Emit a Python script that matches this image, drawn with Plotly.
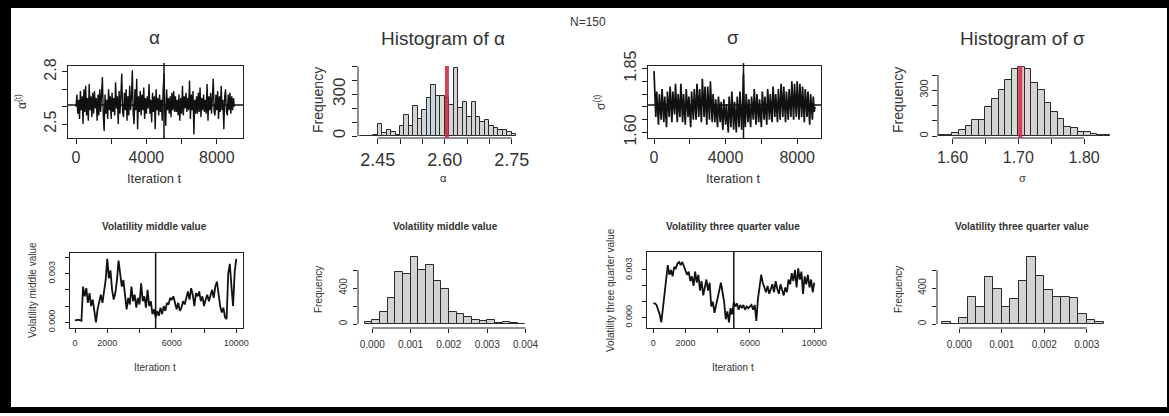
import plotly.graph_objects as go

W, H = 1169, 416

# ---------------- data ----------------
iter_step_top = 50
alpha_trace = [
    2.60, 2.67, 2.56, 2.64, 2.53, 2.69, 2.58, 2.66, 2.50, 2.70,
    2.57, 2.72, 2.55, 2.65, 2.52, 2.73, 2.58, 2.66, 2.54, 2.68,
    2.56, 2.69, 2.59, 2.65, 2.52, 2.67, 2.55, 2.70, 2.57, 2.66,
    2.77, 2.55, 2.46, 2.67, 2.56, 2.64, 2.53, 2.70, 2.58, 2.66,
    2.53, 2.68, 2.57, 2.65, 2.55, 2.74, 2.59, 2.66, 2.50, 2.69,
    2.56, 2.67, 2.79, 2.57, 2.54, 2.68, 2.58, 2.70, 2.52, 2.66,
    2.55, 2.72, 2.58, 2.65, 2.81, 2.56, 2.50, 2.70, 2.58, 2.76,
    2.47, 2.66, 2.57, 2.69, 2.55, 2.67, 2.58, 2.71, 2.53, 2.65,
    2.56, 2.66, 2.59, 2.73, 2.56, 2.64, 2.51, 2.68, 2.57, 2.66,
    2.47, 2.70, 2.58, 2.65, 2.55, 2.67, 2.57, 2.64, 2.52, 2.69,
    2.79, 2.57, 2.49, 2.70, 2.58, 2.65, 2.56, 2.66, 2.54, 2.68,
    2.58, 2.69, 2.57, 2.66, 2.57, 2.64, 2.55, 2.67, 2.52, 2.65,
    2.56, 2.72, 2.55, 2.66, 2.59, 2.68, 2.57, 2.65, 2.58, 2.75,
    2.53, 2.67, 2.58, 2.69, 2.44, 2.64, 2.56, 2.66, 2.56, 2.68,
    2.57, 2.71, 2.54, 2.65, 2.58, 2.67, 2.57, 2.64, 2.56, 2.73,
    2.52, 2.66, 2.58, 2.68, 2.56, 2.65, 2.76, 2.57, 2.55, 2.67,
    2.58, 2.69, 2.53, 2.66, 2.57, 2.72, 2.58, 2.64, 2.47, 2.66,
    2.70, 2.57, 2.55, 2.67, 2.58, 2.68, 2.56, 2.66, 2.58, 2.65,
    2.60]
sigma_trace = [
    1.84, 1.70, 1.66, 1.76, 1.68, 1.63, 1.75, 1.70, 1.65, 1.77,
    1.68, 1.64, 1.74, 1.69, 1.62, 1.76, 1.71, 1.66, 1.78, 1.69,
    1.64, 1.76, 1.70, 1.67, 1.79, 1.68, 1.64, 1.75, 1.71, 1.66,
    1.79, 1.70, 1.64, 1.75, 1.69, 1.63, 1.77, 1.70, 1.66, 1.74,
    1.68, 1.62, 1.76, 1.71, 1.65, 1.77, 1.69, 1.65, 1.79, 1.70,
    1.66, 1.77, 1.71, 1.64, 1.81, 1.69, 1.66, 1.78, 1.70, 1.63,
    1.78, 1.70, 1.65, 1.80, 1.69, 1.64, 1.75, 1.70, 1.64, 1.73,
    1.69, 1.62, 1.74, 1.68, 1.64, 1.72, 1.67, 1.61, 1.73, 1.68,
    1.63, 1.71, 1.66, 1.60, 1.74, 1.68, 1.62, 1.76, 1.67, 1.61,
    1.72, 1.66, 1.60, 1.74, 1.68, 1.62, 1.76, 1.69, 1.61, 1.72,
    1.83, 1.66, 1.62, 1.75, 1.69, 1.64, 1.73, 1.68, 1.62, 1.74,
    1.70, 1.65, 1.77, 1.69, 1.63, 1.75, 1.70, 1.64, 1.73, 1.69,
    1.62, 1.76, 1.70, 1.65, 1.74, 1.69, 1.63, 1.77, 1.70, 1.65,
    1.75, 1.70, 1.64, 1.78, 1.71, 1.66, 1.75, 1.69, 1.64, 1.77,
    1.71, 1.65, 1.79, 1.70, 1.66, 1.78, 1.71, 1.64, 1.76, 1.70,
    1.65, 1.77, 1.71, 1.66, 1.80, 1.70, 1.65, 1.79, 1.72, 1.66,
    1.80, 1.71, 1.65, 1.79, 1.70, 1.66, 1.78, 1.71, 1.64, 1.77,
    1.70, 1.66, 1.76, 1.69, 1.63, 1.75, 1.70, 1.65, 1.74, 1.68,
    1.70]
alpha_mean = 2.61
sigma_mean = 1.707
burn_in = 5000

iter_step_bottom = 100
vol_mid_trace = [0.00015, 0.00012, 0.00016, 0.00013, 0.00010, 0.0022, 0.0016, 0.0021, 0.0012, 0.0018,
                 0.0010, 0.0014, 0.0005, 0.0000, 0.0008, 0.0013, 0.0017, 0.0012, 0.0019, 0.0026,
                 0.0039, 0.0027, 0.0032, 0.0020, 0.0014, 0.0018, 0.0026, 0.0038, 0.0030, 0.0022,
                 0.0026, 0.0017, 0.0008, 0.0015, 0.0011, 0.0022, 0.0013, 0.0017, 0.0009, 0.0015,
                 0.0011, 0.0024, 0.0013, 0.0016, 0.0009, 0.0020, 0.0010, 0.0013, 0.0005, 0.0008,
                 0.0003, 0.0007, 0.0004, 0.0009, 0.0005, 0.0010, 0.0007, 0.0012, 0.0011, 0.0015,
                 0.0014, 0.0016, 0.0011, 0.0008, 0.0012, 0.0007, 0.0009, 0.0013, 0.0011, 0.0016,
                 0.0019, 0.0014, 0.0021, 0.0017, 0.0010, 0.0018, 0.0016, 0.0019, 0.0013, 0.0016,
                 0.0010, 0.0014, 0.0017, 0.0013, 0.0017, 0.0020, 0.0015, 0.0022, 0.0025, 0.0016,
                 0.0010, 0.0006, 0.0009, 0.0003, 0.0002, 0.0030, 0.0036, 0.0022, 0.0010, 0.0031,
                 0.0039]
vol_tq_trace = [0.0009, 0.0009, 0.0008, 0.0005, 0.0002, -0.0003, 0.0006, 0.0012, 0.0020, 0.0033,
                0.0027, 0.0030, 0.0026, 0.0032, 0.0031, 0.0034, 0.0035, 0.0033, 0.0035, 0.0032,
                0.0030, 0.0027, 0.0029, 0.0023, 0.0026, 0.0020, 0.0029, 0.0022, 0.0027, 0.0017,
                0.0023, 0.0014, 0.0019, 0.0024, 0.0017, 0.0022, 0.0007, 0.0010, 0.0003, 0.0008,
                0.0014, 0.0018, 0.0022, 0.0016, 0.0010, -0.0001, 0.0004, -0.0003, 0.0006, 0.0002,
                0.0010, 0.0007, 0.0009, 0.0005, 0.0008, 0.0006, 0.0008, 0.0005, 0.0007, 0.0006,
                0.0007, 0.0008, 0.0005, 0.0008, -0.0002, 0.0012, 0.0019, 0.0027, 0.0022, 0.0019,
                0.0016, 0.0020, 0.0015, 0.0018, 0.0021, 0.0016, 0.0023, 0.0018, 0.0015, 0.0021,
                0.0017, 0.0014, 0.0019, 0.0016, 0.0024, 0.0021, 0.0028, 0.0023, 0.0030, 0.0019,
                0.0031, 0.0024, 0.0029, 0.0015, 0.0026, 0.0021, 0.0027, 0.0019, 0.0024, 0.0016,
                0.0022]

alpha_bin_start, alpha_bin_width = 2.41, 0.01
alpha_counts = [2, 3, 3, 5, 85, 25, 40, 30, 10, 71, 155, 71, 214, 126, 186, 274, 369, 286,
                286, 274, 226, 488, 202, 245, 138, 245, 138, 102, 114, 71, 55, 43, 43, 26, 12]
alpha_blue_bins = [2.56, 2.57, 2.58]
alpha_green_bins = [2.59]
alpha_red = 2.605

sigma_bin_start, sigma_bin_width = 1.58, 0.01
sigma_counts = [5, 5, 17, 39, 66, 105, 105, 192, 243, 302, 367, 437, 455, 437, 345, 302,
                214, 160, 109, 57, 50, 28, 24, 11, 7, 4]
sigma_green_bins = [1.69]
sigma_pink_bins = [1.71]
sigma_red = 1.703

mid_bin_start, mid_bin_width = -0.0002, 0.0002
mid_counts = [26, 44, 137, 285, 581, 555, 740, 600, 655, 478, 385, 137, 111, 74, 44, 37, 44, 8, 22, 11, 4]
tq_bin_start, tq_bin_width = -0.0004, 0.0002
tq_counts = [18, 2, 70, 296, 185, 518, 385, 185, 278, 478, 740, 537, 378, 304, 304, 285, 111, 44, 26]

# ticks: (labelled values, labels, unlabelled tick values)
trace_top_x = ([0, 4000, 8000], ["0", "4000", "8000"], [2000, 6000])
alpha_y = ([2.5, 2.8], ["2.5", "2.8"], [2.6, 2.7])
sigma_y = ([1.60, 1.85], ["1.60", "1.85"], [1.65, 1.70, 1.75, 1.80])
alpha_hx = ([2.45, 2.60, 2.75], ["2.45", "2.60", "2.75"], [2.50, 2.55, 2.65, 2.70])
alpha_hy = ([0, 300], ["0", "300"], [100, 200, 400, 500])
sigma_hx = ([1.60, 1.70, 1.80], ["1.60", "1.70", "1.80"], [1.65, 1.75])
sigma_hy = ([0, 300], ["0", "300"], [100, 200, 400])
trace_bot_x = ([0, 2000, 6000, 10000], ["0", "2000", "6000", "10000"], [4000, 8000])
mid_y = ([0, 0.003], ["0.000", "0.003"], [0.001, 0.002, 0.004])
tq_y = ([0, 0.003], ["0.000", "0.003"], [0.001, 0.002])
mid_hx = ([0, 0.001, 0.002, 0.003, 0.004], ["0.000", "0.001", "0.002", "0.003", "0.004"], [])
tq_hx = ([0, 0.001, 0.002, 0.003], ["0.000", "0.001", "0.002", "0.003"], [])
hist_bot_y = ([0, 400], ["0", "400"], [200, 600])

FONT = "Liberation Sans, Arial, sans-serif"
TXT = "#333333"

# ---------------- figure ----------------
fig = go.Figure()
layout = dict(width=W, height=H, margin=dict(l=0, r=0, t=0, b=0, pad=0, autoexpand=False),
              autosize=False,
              paper_bgcolor="white", plot_bgcolor="white", showlegend=False,
              font=dict(family=FONT, color=TXT))
shapes = []
annotations = []


def xd(x0, x1):
    return [x0 / W, x1 / W]


def yd(y0, y1):
    return [1 - y1 / H, 1 - y0 / H]


def axis_dict(dom, rng, tk, fs, tl, box, stand, anchor, angle=None):
    vals, text, minor_vals = tk
    d = dict(domain=dom, range=rng, anchor=anchor, showgrid=False, zeroline=False,
             ticks="outside", ticklen=tl, tickwidth=1, tickcolor="#222",
             showline=box, mirror=box, linecolor="#222", linewidth=1,
             tickmode="array", tickvals=vals, ticktext=text, automargin=False,
             tickfont=dict(size=fs, color=TXT), ticklabelstandoff=stand)
    if minor_vals:
        d["minor"] = dict(tickmode="array", tickvals=minor_vals, ticks="outside",
                          ticklen=tl, tickwidth=1, tickcolor="#222", showgrid=False)
    if angle is not None:
        d["tickangle"] = angle
    return d


def make_axes(n, xdom, ydom, xr, yr, xt, yt, xfs, yfs, tl, box, xstand=0, ystand=0):
    s = "" if n == 1 else str(n)
    layout["xaxis" + s] = axis_dict(xdom, xr, xt, xfs, tl, box, xstand, "y" + s)
    layout["yaxis" + s] = axis_dict(ydom, yr, yt, yfs, tl, box, ystand, "x" + s, angle=-90)


def hist_frame(n, xt, yt):
    s = "" if n == 1 else str(n)
    xs = sorted(xt[0] + xt[2])
    ys = sorted(yt[0] + yt[2])
    shapes.append(dict(type="line", xref="x" + s, yref="y" + s + " domain",
                       x0=xs[0], x1=xs[-1], y0=0, y1=0, line=dict(color="#222", width=1)))
    shapes.append(dict(type="line", xref="x" + s + " domain", yref="y" + s,
                       x0=0, x1=0, y0=ys[0], y1=ys[-1], line=dict(color="#222", width=1)))


def ann(text, x, y, size, angle=0, bold=False, color=TXT):
    if bold:
        text = "<b>" + text + "</b>"
    annotations.append(dict(text=text, x=x / W, y=1 - y / H, xref="paper", yref="paper",
                            showarrow=False, font=dict(size=size, color=color, family=FONT),
                            textangle=angle, xanchor="center", yanchor="middle"))


def vline(n, xv, color="#111", width=1.5, top=1):
    s = "" if n == 1 else str(n)
    shapes.append(dict(type="line", xref="x" + s, yref="y" + s + " domain",
                       x0=xv, x1=xv, y0=0, y1=top, line=dict(color=color, width=width)))


def hline(n, yv, color="#111", width=1.5):
    s = "" if n == 1 else str(n)
    shapes.append(dict(type="line", xref="x" + s + " domain", yref="y" + s,
                       x0=0, x1=1, y0=yv, y1=yv, line=dict(color=color, width=width)))


def add_trace_line(n, step, vals, width):
    s = "" if n == 1 else str(n)
    xs = [i * step for i in range(len(vals))]
    fig.add_trace(go.Scatter(x=xs, y=vals, mode="lines", xaxis="x" + s, yaxis="y" + s,
                             line=dict(color="#111111", width=width), hoverinfo="skip"))


def add_hist(n, start, width, counts, colors=None):
    s = "" if n == 1 else str(n)
    centers = [start + width * (i + 0.5) for i in range(len(counts))]
    fig.add_trace(go.Bar(x=centers, y=counts, width=width, xaxis="x" + s, yaxis="y" + s,
                         marker=dict(color=colors if colors else "#d3d3d3",
                                     line=dict(color="#2a2a2a", width=1)),
                         hoverinfo="skip"))


def bin_colors(start, width, n, special):
    cols = []
    for i in range(n):
        left = round(start + width * i, 4)
        c = "#d3d3d3"
        for val, col in special:
            if any(abs(left - v) < 1e-9 for v in val):
                c = col
        cols.append(c)
    return cols


# Panel 1: alpha trace
make_axes(1, xd(68, 243), yd(66, 138), [-455, 9490], [2.42, 2.834],
          trace_top_x, alpha_y, 16, 16, 5, True)
add_trace_line(1, iter_step_top, alpha_trace, 1.4)
hline(1, alpha_mean)
vline(1, burn_in, top=1.04)

# Panel 2: alpha histogram
make_axes(2, xd(358, 533), yd(66, 138), [2.406, 2.7975], [-14, 504],
          alpha_hx, alpha_hy, 18, 17, 5, False)
add_hist(2, alpha_bin_start, alpha_bin_width, alpha_counts,
         bin_colors(alpha_bin_start, alpha_bin_width, len(alpha_counts),
                    [(alpha_blue_bins, "#c8d5dc"), (alpha_green_bins, "#cfe0d2")]))
hist_frame(2, alpha_hx, alpha_hy)
vline(2, alpha_red, color="rgba(205,35,60,0.85)", width=4)

# Panel 3: sigma trace
make_axes(3, xd(648, 821), yd(66, 138), [-335, 9330], [1.578, 1.860],
          trace_top_x, sigma_y, 16, 16, 5, True)
add_trace_line(3, iter_step_top, sigma_trace, 1.7)
hline(3, sigma_mean)
vline(3, burn_in, top=1.04)

# Panel 4: sigma histogram
make_axes(4, xd(938, 1112), yd(66, 138), [1.578, 1.8424], [-13, 459],
          sigma_hx, sigma_hy, 16, 11, 5, False)
add_hist(4, sigma_bin_start, sigma_bin_width, sigma_counts,
         bin_colors(sigma_bin_start, sigma_bin_width, len(sigma_counts),
                    [(sigma_green_bins, "#cfe0d2"), (sigma_pink_bins, "#e6d2d6")]))
hist_frame(4, sigma_hx, sigma_hy)
vline(4, sigma_red, color="rgba(215,35,70,0.85)", width=4)

# Panel 5: volatility middle trace
make_axes(5, xd(70, 243), yd(253, 328), [-310, 10416], [-0.00035, 0.004265],
          trace_bot_x, mid_y, 9, 9, 4, True, xstand=2, ystand=6)
add_trace_line(5, iter_step_bottom, vol_mid_trace, 1.8)
vline(5, burn_in)

# Panel 6: volatility middle histogram
make_axes(6, xd(358, 533), yd(253, 328), [-0.000373, 0.004196], [-44, 789],
          mid_hx, hist_bot_y, 10, 10, 4, False, xstand=3, ystand=2)
add_hist(6, mid_bin_start, mid_bin_width, mid_counts)
hist_frame(6, mid_hx, hist_bot_y)

# Panel 7: volatility three quarter trace
make_axes(7, xd(647, 821), yd(252, 328), [-390, 10416], [-0.00065, 0.00413],
          trace_bot_x, tq_y, 9, 9, 4, True, xstand=2, ystand=6)
add_trace_line(7, iter_step_bottom, vol_tq_trace, 1.8)
vline(7, burn_in)

# Panel 8: volatility three quarter histogram
make_axes(8, xd(937, 1112), yd(253, 328), [-0.000525, 0.003593], [-44, 789],
          tq_hx, hist_bot_y, 10, 10, 4, False, xstand=3, ystand=2)
add_hist(8, tq_bin_start, tq_bin_width, tq_counts)
hist_frame(8, tq_hx, hist_bot_y)

# ---------------- text ----------------
ann("α", 155, 37, 19)
ann("Histogram of α", 443, 38, 19)
ann("σ", 733, 37, 19)
ann("Histogram of σ", 1022, 38, 19)
ann("N=150", 588, 22, 12)
ann("Iteration t", 155, 178, 13)
ann("Iteration t", 733, 178, 13)
ann("α", 443, 178, 11)
ann("σ", 1022, 178, 11)
ann("α<sup>(t)</sup>", 21, 102, 12, angle=-90)
ann("σ<sup>(t)</sup>", 600, 102, 12, angle=-90)
ann("Frequency", 318, 100, 14, angle=-90)
ann("Frequency", 898, 100, 14, angle=-90)

ann("Volatility middle value", 155, 227, 10, bold=True)
ann("Volatility middle value", 445, 227, 10, bold=True)
ann("Volatility three quarter value", 733, 227, 10, bold=True)
ann("Volatility three quarter value", 1022, 227, 10, bold=True)
ann("Iteration t", 155, 367, 10)
ann("Iteration t", 733, 367, 10)
ann("Volatility middle value", 32, 290, 10, angle=-90)
ann("Volatility three quarter value", 610, 290, 10, angle=-90)
ann("Frequency", 318, 290, 10, angle=-90)
ann("Frequency", 898, 290, 10, angle=-90)

# ---------------- frame ----------------
for (x0, y0, x1, y1) in [(0, 0, 1169, 8), (0, 0, 11, 413), (0, 407, 1169, 413), (1167, 0, 1169, 413)]:
    shapes.append(dict(type="rect", xref="paper", yref="paper", x0=x0 / W, x1=x1 / W,
                       y0=1 - y1 / H, y1=1 - y0 / H, fillcolor="black", line=dict(width=0),
                       layer="above"))

layout["shapes"] = shapes
layout["annotations"] = annotations
layout["bargap"] = 0
fig.update_layout(**layout)
fig.write_html("out.html",
               post_script="document.body.style.margin='0';document.body.style.overflow='hidden';")
